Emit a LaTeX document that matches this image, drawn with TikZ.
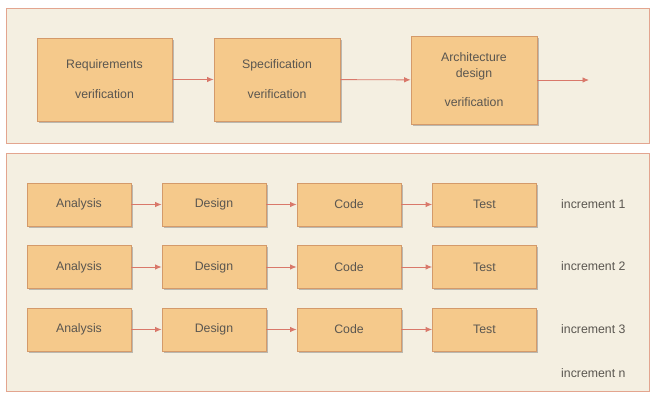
\documentclass[tikz,border=0pt]{standalone}
\usepackage{fontspec}
\setmainfont{Liberation Sans}
\usetikzlibrary{arrows.meta,shadows}
\definecolor{panelfill}{HTML}{F4EFE1}
\definecolor{panelline}{HTML}{E3A58F}
\definecolor{boxfill}{HTML}{F5C98B}
\definecolor{boxline}{HTML}{D49A6A}
\definecolor{arrowc}{HTML}{D9786A}
\definecolor{txt}{HTML}{5A5650}
\begin{document}
\begin{tikzpicture}[x=1pt,y=-1pt,
  panel/.style={draw=panelline, fill=panelfill, line width=0.9pt,
    drop shadow={shadow xshift=0.8pt, shadow yshift=-1.2pt, opacity=0.15, fill=black!50}},
  stagebox/.style={draw=boxline, fill=boxfill, line width=0.7pt,
    drop shadow={shadow xshift=1.5pt, shadow yshift=-1.8pt, opacity=0.4, fill=black!60},
    text=txt, font=\fontsize{12.3}{14}\selectfont, align=center, inner sep=0pt},
  topbox/.style={stagebox, minimum width=126pt, minimum height=83pt},
  rowbox/.style={stagebox, minimum width=104pt, minimum height=43pt},
  flow/.style={draw=arrowc, line width=0.9pt, -{Latex[length=6.5pt,width=5.5pt]}},
  inclabel/.style={text=txt, font=\fontsize{12.3}{14}\selectfont, anchor=west, inner sep=0pt}]
\useasboundingbox[fill=white] (0,0) rectangle (651,398);
% panels
\path[panel] (6,8) rectangle (649,143);
\path[panel] (6,153) rectangle (649,391);
% top row
\node[topbox, minimum width=135pt] (req) at (104.5,79.5) {Requirements\\[16pt]verification};
\node[topbox] (spec) at (277,79.5) {Specification\\[16pt]verification};
\node[topbox, minimum height=88pt] (arch) at (474,80) {Architecture\\[2pt]design\\[15pt]verification};
\coordinate (archout) at (589,80);
\draw[flow] (req) -- (spec);
\draw[flow] (spec) -- (arch);
\draw[flow] (arch) -- (archout);
% increments
\foreach \r/\y in {1/204.5, 2/267, 3/329.5}{
  \node[rowbox] (a\r) at (79,\y) {Analysis};
  \node[rowbox] (d\r) at (214,\y) {Design};
  \node[rowbox] (c\r) at (349,\y) {Code};
  \node[rowbox] (t\r) at (484.5,\y) {Test};
  \draw[flow] (a\r) -- (d\r);
  \draw[flow] (d\r) -- (c\r);
  \draw[flow] (c\r) -- (t\r);
}
\node[inclabel] (i1) at (561,204) {increment 1};
\node[inclabel] (i2) at (561,266) {increment 2};
\node[inclabel] (i3) at (561,329) {increment 3};
\node[inclabel] (in) at (561,373) {increment n};
\end{tikzpicture}
\end{document}
